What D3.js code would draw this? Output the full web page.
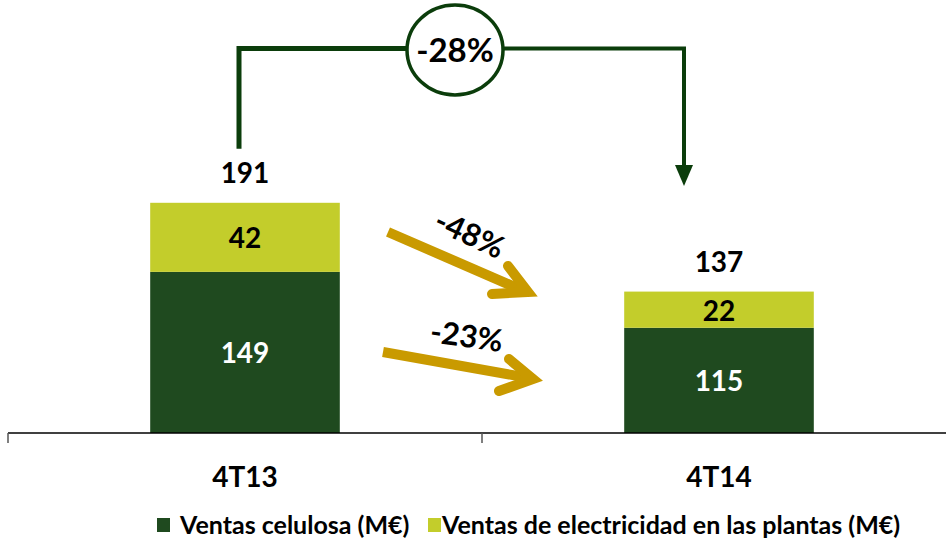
<!DOCTYPE html>
<html><head><meta charset="utf-8">
<script src="https://cdn.jsdelivr.net/npm/d3@7"></script>
<style>
html,body{margin:0;padding:0;background:#fff;}
svg{display:block;font-family:Lato,"Open Sans",sans-serif;font-weight:bold;}
</style></head>
<body>
<svg id="chart" width="946" height="541"></svg>
<script>
const categories = ["4T13", "4T14"];
const celulosa = [149, 115];
const electricidad = [42, 22];
const totals = [191, 137];
const seriesNames = ["Ventas celulosa (M€)", "Ventas de electricidad en las plantas (M€)"];
const changeTotal = "-28%";
const changeElectricidad = "-48%";
const changeCelulosa = "-23%";

const colors = {celulosa: "#1f4a1f", electricidad: "#c3cd2b", connector: "#0b3d0b", gold: "#c99a00"};

const svg = d3.select("#chart");
const x = d3.scaleBand().domain(categories).range([8, 956]).paddingInner(0).paddingOuter(0);
const y = d3.scaleLinear().domain([51, 200]).range([433, 188]);
const barW = x.bandwidth() * 0.4;
const cx = d => x(d) + x.bandwidth() / 2;

const data = categories.map((c, i) => ({cat: c, cel: celulosa[i], ele: electricidad[i], tot: totals[i]}));

// bars
const g = svg.append("g");
g.selectAll("rect.cel").data(data).join("rect")
  .attr("x", d => cx(d.cat) - barW / 2).attr("width", barW)
  .attr("y", d => y(d.cel)).attr("height", d => y.range()[0] - y(d.cel))
  .attr("fill", colors.celulosa);
g.selectAll("rect.ele").data(data).join("rect")
  .attr("x", d => cx(d.cat) - barW / 2).attr("width", barW)
  .attr("y", d => y(d.cel + d.ele)).attr("height", d => y(d.cel) - y(d.cel + d.ele))
  .attr("fill", colors.electricidad);

// segment labels
g.selectAll("text.cel").data(data).join("text")
  .attr("x", d => cx(d.cat)).attr("y", d => (y(d.cel) + y.range()[0]) / 2 + 11)
  .attr("text-anchor", "middle").attr("font-size", 28).attr("fill", "#fff")
  .text(d => d.cel);
g.selectAll("text.ele").data(data).join("text")
  .attr("x", d => cx(d.cat)).attr("y", d => (y(d.cel) + y(d.cel + d.ele)) / 2 + 11)
  .attr("text-anchor", "middle").attr("font-size", 28).attr("fill", "#000")
  .text(d => d.ele);
g.selectAll("text.tot").data(data).join("text")
  .attr("x", d => cx(d.cat)).attr("y", d => y(d.tot) - 20)
  .attr("text-anchor", "middle").attr("font-size", 28).attr("fill", "#000")
  .text(d => d.tot);

// axis
const axisG = svg.append("g").attr("transform", "translate(0,433)");
axisG.append("line").attr("x1", 8).attr("x2", 946).attr("y1", 0).attr("y2", 0)
  .attr("stroke", "#000").attr("stroke-width", 1.5);
axisG.selectAll("line.tick").data(categories).join("line")
  .attr("x1", d => x(d)).attr("x2", d => x(d)).attr("y1", 0).attr("y2", 10)
  .attr("stroke", "#555").attr("stroke-width", 1.5);
axisG.selectAll("text.cat").data(categories).join("text")
  .attr("x", d => cx(d)).attr("y", 54)
  .attr("text-anchor", "middle").attr("font-size", 28).attr("fill", "#000")
  .text(d => d);

// connector
const x0 = cx(categories[0]) - 6, x1 = cx(categories[1]) - 35;
const topY = 48.5;
const circ = {x: 455, y: 50, rx: 48, ry: 45};
svg.append("path")
  .attr("d", `M${x0},${y(totals[0]) - 54} L${x0},${topY} L${circ.x - circ.rx},${topY}`)
  .attr("fill", "none").attr("stroke", colors.connector).attr("stroke-width", 5);
svg.append("path")
  .attr("d", `M${circ.x + circ.rx},${topY} L${x1},${topY} L${x1},167`)
  .attr("fill", "none").attr("stroke", colors.connector).attr("stroke-width", 4);
svg.append("path")
  .attr("d", `M${x1 - 9},165 L${x1 + 9},165 L${x1},186 Z`)
  .attr("fill", colors.connector);
svg.append("ellipse").attr("cx", circ.x).attr("cy", circ.y).attr("rx", circ.rx).attr("ry", circ.ry)
  .attr("fill", "#fff").attr("stroke", colors.connector).attr("stroke-width", 3.5);
svg.append("text").attr("x", circ.x).attr("y", circ.y + 12)
  .attr("text-anchor", "middle").attr("font-size", 33).attr("fill", "#000").text(changeTotal);

// gold arrows
function goldArrow(p0, p1, a1, a2) {
  svg.append("path").attr("d", `M${p0[0]},${p0[1]} L${p1[0] - 4},${p1[1] - 1}`)
    .attr("stroke", colors.gold).attr("stroke-width", 10).attr("fill", "none");
  svg.append("path").attr("d", `M${a1[0]},${a1[1]} L${p1[0]},${p1[1]} L${a2[0]},${a2[1]}`)
    .attr("stroke", colors.gold).attr("stroke-width", 10).attr("fill", "none")
    .attr("stroke-linecap", "round").attr("stroke-linejoin", "miter");
}
goldArrow([388, 232], [528, 292], [508, 266], [492, 294]);
goldArrow([383, 352], [533, 379], [509, 359], [499, 391]);

svg.append("text").attr("transform", "translate(465,244) rotate(25)")
  .attr("text-anchor", "middle").attr("font-size", 31).attr("fill", "#000").text(changeElectricidad);
svg.append("text").attr("transform", "translate(465,347) rotate(8)")
  .attr("text-anchor", "middle").attr("font-size", 31).attr("fill", "#000").text(changeCelulosa);

// legend
const legend = svg.append("g");
const legItems = [
  {name: seriesNames[0], color: colors.celulosa, x: 157},
  {name: seriesNames[1], color: colors.electricidad, x: 428}
];
legend.selectAll("rect").data(legItems).join("rect")
  .attr("x", d => d.x).attr("y", 518).attr("width", 13).attr("height", 14).attr("fill", d => d.color);
legend.selectAll("text").data(legItems).join("text")
  .attr("x", (d, i) => d.x + (i === 0 ? 23 : 14)).attr("y", 534)
  .attr("font-size", 25).attr("fill", "#000").text(d => d.name);
</script>
</body></html>
